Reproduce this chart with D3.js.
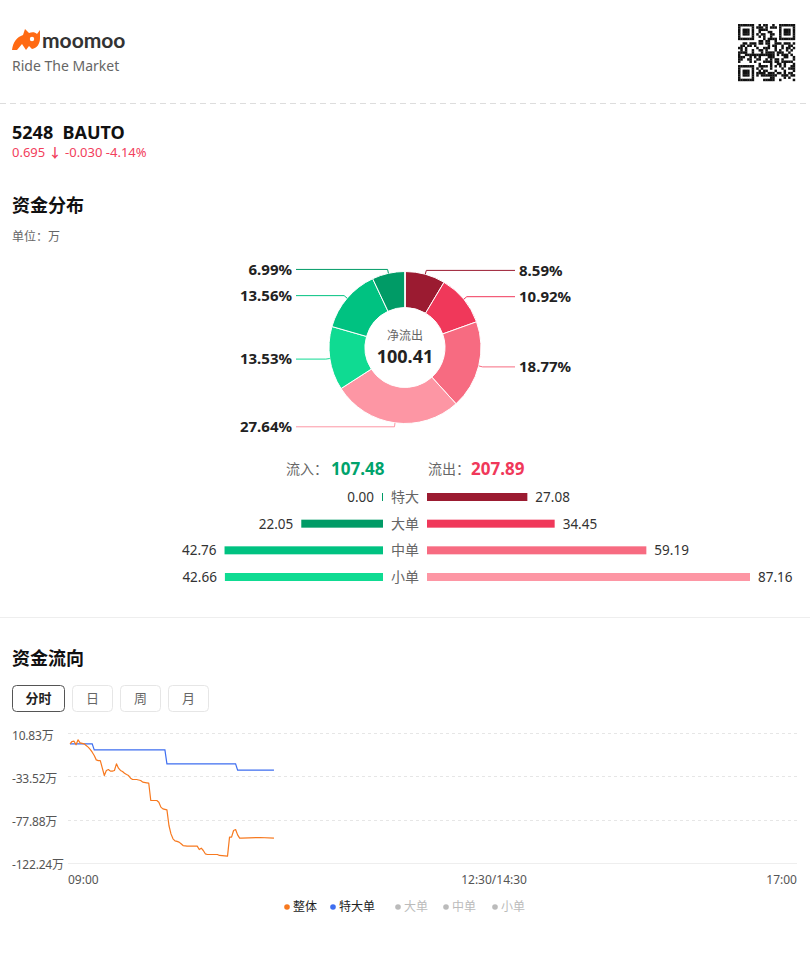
<!DOCTYPE html>
<html><head><meta charset="utf-8">
<script src="https://cdn.jsdelivr.net/npm/d3@7"></script>
<style>
html,body{margin:0;padding:0;background:#fff;}
svg{display:block;font-family:"Noto Sans","Noto Sans CJK SC",sans-serif;}
</style></head>
<body><svg id="c" width="810" height="955"></svg>
<script>
// ---------------- data ----------------
const stockCode = "5248", stockName = "BAUTO";
const quote = ["0.695", "-0.030", "-4.14%"];
const netOutflow = 100.41;
const totalIn = 107.48, totalOut = 207.89;
const sizeLabels = ["特大", "大单", "中单", "小单"];
const inflow = [0.00, 22.05, 42.76, 42.66];
const outflow = [27.08, 34.45, 59.19, 87.16];
const inColors = ["#009b66", "#009b66", "#00c281", "#0fdb92"];
const outColors = ["#9b1b31", "#f0385a", "#f76b81", "#fd96a4"];
const yTicks = [10.83, -33.52, -77.88, -122.24];
const xTickLabels = ["09:00", "12:30/14:30", "17:00"];
const sessions = [["09:00", "12:30"], ["14:30", "17:00"]];
const overallTimes = ["09:00","09:01","09:02","09:03","09:04","09:05","09:06","09:07","09:08","09:09","09:10","09:11","09:12","09:13","09:14","09:15","09:16","09:17","09:18","09:19","09:20","09:21","09:22","09:23","09:24","09:25","09:26","09:27","09:28","09:29","09:30","09:31","09:33","09:35","09:36","09:38","09:39","09:40","09:43","09:44","09:45","09:46","09:48","09:49","09:50","09:51","09:52","09:53","09:54","09:55","09:56","09:58","10:03","10:04","10:05","10:06","10:07","10:08","10:13","10:14","10:18","10:19","10:20","10:21","10:22","10:23","10:24","10:25","10:34","10:41"];
const overallValues = [0.0,2.4,2.7,-1.0,4.1,1.0,0.5,0.0,-1.7,-3.4,-5.8,-8.6,-12.0,-16.5,-17.2,-17.2,-25.0,-32.6,-27.4,-26.4,-28.1,-28.1,-27.4,-20.6,-25.0,-27.4,-28.5,-30.2,-31.5,-32.6,-35.3,-36.7,-36.7,-37.7,-39.4,-40.1,-40.5,-58.3,-58.3,-60.0,-65.1,-66.9,-67.9,-84.0,-92.6,-97.7,-99.8,-100.3,-101.1,-102.8,-104.6,-105.2,-105.2,-108.7,-107.3,-109.7,-113.1,-113.8,-113.8,-114.8,-115.5,-96.0,-96.0,-89.1,-88.1,-93.6,-97.0,-97.0,-96.3,-97.0];
const superTimes = ["09:00","09:11","09:12","09:47","09:48","10:22","10:23","10:41"];
const superValues = [0, 0, -6.2, -6.2, -20.6, -20.6, -27.08, -27.08];
const legendItems = ["整体", "特大单", "大单", "中单", "小单"];

// ---------------- drawing ----------------
const svg = d3.select("#c");

// header
const logo = svg.append("g").attr("transform", "translate(12,29)");
logo.append("path").attr("fill", "#ff6a13")
  .attr("d", "M0,21 C1,13 5,8 11,6 L13,0 L17,4 C20,3 23,3 25,5 L28,1 L28,9 C28,15 25,19 20,20 L17,17 L14,21 L10,15 L5,21 Z");
logo.append("circle").attr("cx", 20).attr("cy", 10).attr("r", 2.2).attr("fill", "#fff");
svg.append("text").attr("x", 42).attr("y", 48).attr("font-size", 21).attr("font-weight", 700)
  .attr("fill", "#333").attr("font-family", "Lato,'Noto Sans',sans-serif").text("moomoo");
svg.append("text").attr("x", 12).attr("y", 71).attr("font-size", 14).attr("fill", "#666").text("Ride The Market");

// QR-like pattern
(function(){
  const g = svg.append("g").attr("transform", "translate(738,24)");
  const n = 25, s = 57 / n;
  let h = 1234567;
  const finder = (r, c) => {
    const fp = [[0,0],[0,n-7],[n-7,0]];
    for (const [fr, fc] of fp) {
      if (r >= fr && r < fr + 7 && c >= fc && c < fc + 7) {
        const dr = r - fr, dc = c - fc;
        const ring = Math.min(dr, dc, 6 - dr, 6 - dc);
        return ring !== 1 ? 1 : 0;
      }
      if (r >= fr - 1 && r <= fr + 7 && c >= fc - 1 && c <= fc + 7) return 0;
    }
    return -1;
  };
  for (let r = 0; r < n; r++) for (let c = 0; c < n; c++) {
    let v = finder(r, c);
    if (v === -1) { h = (h * 1103515245 + 12345) % 2147483648; v = (h >> 16) & 1; }
    if (v) g.append("rect").attr("x", c * s).attr("y", r * s).attr("width", s + 0.2).attr("height", s + 0.2).attr("fill", "#111");
  }
})();

svg.append("line").attr("x1", 0).attr("x2", 810).attr("y1", 103.5).attr("y2", 103.5)
  .attr("stroke", "#ddd").attr("stroke-dasharray", "6,4");

svg.append("text").attr("x", 12).attr("y", 139).attr("font-size", 18).attr("font-weight", 700).attr("fill", "#111")
  .text(stockCode + "\u00a0\u00a0" + stockName);
const q = svg.append("text").attr("x", 12).attr("y", 157).attr("font-size", 13).attr("fill", "#f2405c");
q.append("tspan").text(quote[0] + " ");
q.append("tspan").text("\u2193").attr("font-weight", 700);
q.append("tspan").text(" " + quote[1] + " " + quote[2]);

svg.append("text").attr("x", 12).attr("y", 212).attr("font-size", 18).attr("font-weight", 700).attr("fill", "#111").text("资金分布");
svg.append("text").attr("x", 12).attr("y", 241).attr("font-size", 12).attr("fill", "#666").text("单位：万");

// donut
const cx = 405, cy = 347.5, rO = 76, rI = 40;
const total = totalIn + totalOut;
const slices = outflow.map((v, i) => ({v, c: outColors[i]}))
  .concat(inflow.map((v, i) => ({v, c: inColors[i]})).reverse());
const pie = d3.pie().sort(null).value(d => d.v);
const arcs = pie(slices);
const arc = d3.arc().innerRadius(rI).outerRadius(rO);
const pg = svg.append("g").attr("transform", `translate(${cx},${cy})`);
pg.selectAll("path").data(arcs).join("path").attr("d", arc).attr("fill", d => d.data.c)
  .attr("stroke", "#fff").attr("stroke-width", 1);
arcs.forEach(d => {
  if (d.data.v <= 0) return;
  const a = (d.startAngle + d.endAngle) / 2;
  const x1 = Math.sin(a) * rO, y1 = -Math.cos(a) * rO;
  const x2 = Math.sin(a) * (rO + 4), y2 = -Math.cos(a) * (rO + 4);
  const right = x1 > 0;
  const x3 = right ? 110 : -109;
  pg.append("polyline").attr("points", `${x1},${y1} ${x2},${y2} ${x3},${y2}`)
    .attr("fill", "none").attr("stroke", d.data.c).attr("stroke-width", 1);
  pg.append("text").attr("x", right ? x3 + 4 : x3 - 4).attr("y", y2).attr("dy", "0.35em")
    .attr("text-anchor", right ? "start" : "end").attr("font-size", 15).attr("font-weight", 700).attr("fill", "#222")
    .text((d.data.v / total * 100).toFixed(2) + "%");
});
pg.append("text").attr("y", -8).attr("text-anchor", "middle").attr("font-size", 12).attr("fill", "#666").text("净流出");
pg.append("text").attr("y", 15).attr("text-anchor", "middle").attr("font-size", 18).attr("font-weight", 700).attr("fill", "#222").text(netOutflow.toFixed(2));

// totals
svg.append("text").attr("x", 286).attr("y", 474).attr("font-size", 14).attr("fill", "#666").text("流入：");
svg.append("text").attr("x", 331).attr("y", 475).attr("font-size", 17).attr("font-weight", 700).attr("fill", "#00a36c").text(totalIn.toFixed(2));
svg.append("text").attr("x", 428).attr("y", 474).attr("font-size", 14).attr("fill", "#666").text("流出：");
svg.append("text").attr("x", 471).attr("y", 475).attr("font-size", 17).attr("font-weight", 700).attr("fill", "#f0385a").text(totalOut.toFixed(2));

// bars
const maxV = d3.max(inflow.concat(outflow));
const w = d3.scaleLinear().domain([0, maxV]).range([0, 323]);
const rowY = d3.scalePoint().domain(sizeLabels).range([497, 577]);
sizeLabels.forEach((lab, i) => {
  const y = rowY(lab);
  svg.append("text").attr("x", 405).attr("y", y).attr("dy", "0.36em").attr("text-anchor", "middle")
    .attr("font-size", 14).attr("fill", "#666").text(lab);
  const lw = Math.max(1, w(inflow[i]));
  svg.append("rect").attr("x", 383 - lw).attr("y", y - 4).attr("width", lw).attr("height", 8).attr("fill", inColors[i]);
  svg.append("text").attr("x", 383 - lw - 8).attr("y", y).attr("dy", "0.36em").attr("text-anchor", "end")
    .attr("font-size", 13.5).attr("fill", "#333").text(inflow[i].toFixed(2));
  const rw = w(outflow[i]);
  svg.append("rect").attr("x", 427).attr("y", y - 4).attr("width", rw).attr("height", 8).attr("fill", outColors[i]);
  svg.append("text").attr("x", 427 + rw + 8).attr("y", y).attr("dy", "0.36em")
    .attr("font-size", 13.5).attr("fill", "#333").text(outflow[i].toFixed(2));
});

svg.append("line").attr("x1", 0).attr("x2", 810).attr("y1", 617.5).attr("y2", 617.5).attr("stroke", "#eee");

svg.append("text").attr("x", 12).attr("y", 665).attr("font-size", 18).attr("font-weight", 700).attr("fill", "#111").text("资金流向");

// tabs
const tabs = [["分时", 12, 52], ["日", 72, 40], ["周", 120, 40], ["月", 168, 40]];
tabs.forEach(([t, x, wd], i) => {
  svg.append("rect").attr("x", x + 0.5).attr("y", 685.5).attr("width", wd).attr("height", 26).attr("rx", 4)
    .attr("fill", "#fff").attr("stroke", i === 0 ? "#555" : "#e6e6e6");
  svg.append("text").attr("x", x + wd / 2 + 0.5).attr("y", 698.5).attr("dy", "0.36em").attr("text-anchor", "middle")
    .attr("font-size", 13).attr("font-weight", i === 0 ? 700 : 400).attr("fill", i === 0 ? "#222" : "#666").text(t);
});

// line chart
const toMin = s => { const [h, m] = s.split(":").map(Number); return h * 60 + m; };
const sessLen = sessions.map(([a, b]) => toMin(b) - toMin(a));
const tradeMin = s => {
  const m = toMin(s);
  if (m <= toMin(sessions[0][1])) return m - toMin(sessions[0][0]);
  return sessLen[0] + (m - toMin(sessions[1][0]));
};
const x = d3.scaleLinear().domain([0, d3.sum(sessLen)]).range([70, 797]);
const y = d3.scaleLinear().domain([yTicks[3], yTicks[0]]).range([862.7, 733.3]);

yTicks.forEach((t, i) => {
  svg.append("line").attr("x1", 68).attr("x2", 797).attr("y1", Math.round(y(t)) + 0.5).attr("y2", Math.round(y(t)) + 0.5)
    .attr("stroke", i === 3 ? "#eee" : "#e6e6e6").attr("stroke-dasharray", i === 3 ? null : "3,3");
  svg.append("text").attr("x", 12).attr("y", y(t) + 2).attr("dy", "0.36em").attr("font-size", 12).attr("fill", "#555")
    .attr("letter-spacing", "-0.2").text(t.toFixed(2) + "万");
});
const xPos = [x(0), x(sessLen[0]), x(d3.sum(sessLen))];
const anchors = ["start", "middle", "end"];
xTickLabels.forEach((t, i) => {
  svg.append("text").attr("x", xPos[i] + (i === 0 ? -2 : 0)).attr("y", 884).attr("text-anchor", anchors[i])
    .attr("font-size", 12).attr("fill", "#555").text(t);
});

const line = d3.line().x(d => x(tradeMin(d[0]))).y(d => y(d[1]));
svg.append("path").datum(superTimes.map((t, i) => [t, superValues[i]])).attr("d", line)
  .attr("fill", "none").attr("stroke", "#3e6ef0").attr("stroke-width", 1.2);
svg.append("path").datum(overallTimes.map((t, i) => [t, overallValues[i]])).attr("d", line)
  .attr("fill", "none").attr("stroke", "#f7791f").attr("stroke-width", 1.2).attr("stroke-linejoin", "round");

// legend
const legColors = ["#f7791f", "#3e6ef0", "#bbb", "#bbb", "#bbb"];
const legX = [287, 333, 398, 446, 495];
legendItems.forEach((t, i) => {
  svg.append("circle").attr("cx", legX[i]).attr("cy", 907).attr("r", 2.8).attr("fill", legColors[i]);
  svg.append("text").attr("x", legX[i] + 6).attr("y", 907).attr("dy", "0.36em").attr("font-size", 12)
    .attr("fill", i < 2 ? "#222" : "#bbb").text(t);
});
</script></body></html>
